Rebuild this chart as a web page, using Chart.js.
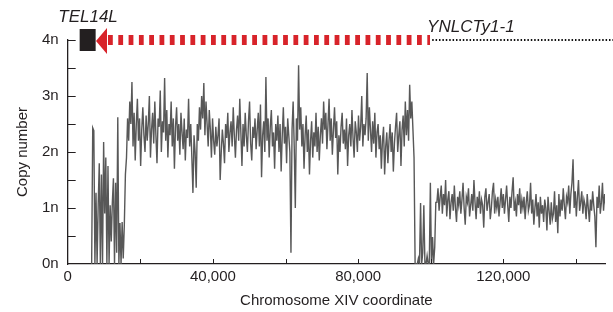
<!DOCTYPE html>
<html>
<head>
<meta charset="utf-8">
<script src="https://cdn.jsdelivr.net/npm/chart.js@4.4.1/dist/chart.umd.min.js"></script>
<style>
  html, body { margin: 0; padding: 0; background: #fff; }
</style>
</head>
<body>
<canvas id="canvas" width="613" height="312"></canvas>
<script>
// read-depth bins, 300 bp apart, first bin at 6,600
var binStart = 6600
var binSize = 300

// left of the break: patchy coverage
var leftDrop = [0, 2.43, 2.38, 0, 1.27, 0, 1.05, 1.8, 0, 1.6, 0, 2.18, 0.9, 1.9, 0, 1.75,
  0, 1.05, 0.4, 1.1, 1.53, 0, 1.45, 0.2, 2.62, 0, 0.73, 0, 0.75, 0.1, 0.7, 1.6]

// amplified stretch, about 2n
var amplified = [
  1.9, 2.6, 2.2, 2.9, 2.5, 3.25, 2.1, 2.7, 1.85, 2.5, 2.95, 2.2, 2.6, 1.75, 2.4, 2.8, 2.3, 2.0, 2.65, 2.2,
  2.5, 3.0, 1.9, 2.4, 2.7, 2.15, 2.9, 2.3, 1.8, 2.6, 2.45, 3.1, 2.0, 2.55, 2.35, 3.32, 2.2, 2.75, 1.9, 2.5,
  2.3, 2.9, 2.1, 2.6, 1.7, 2.45, 2.8, 2.2, 2.5, 1.95, 2.7, 2.35, 2.05, 2.6, 1.85, 2.4, 2.25, 2.95, 2.1, 2.5,
  1.9, 1.27, 2.3, 2.0, 1.36, 2.5, 2.2, 2.8, 2.4, 3.0, 2.6, 3.23, 2.3, 2.9, 2.5, 2.1, 2.75, 2.4, 1.9, 2.6,
  2.2, 1.95, 2.45, 2.1, 2.3, 2.6, 1.5, 2.0, 2.4, 2.15, 1.8, 2.5, 2.25, 2.7, 2.0, 2.35, 2.55, 2.1, 2.8, 2.3,
  1.9, 2.4, 2.65, 2.2, 2.95, 2.35, 1.75, 2.5, 2.1, 2.7, 2.3, 2.0, 2.55, 2.9, 2.15, 1.85, 2.45, 2.25, 2.6, 2.05,
  2.4, 2.7, 2.1, 2.85, 1.55, 2.3, 2.55, 2.0, 3.34, 2.2, 2.6, 1.9, 2.45, 2.75, 2.1, 2.35, 1.7, 2.5, 2.2, 2.65,
  2.0, 2.5, 1.65, 2.3, 2.8, 2.15, 2.45, 1.8, 2.6, 2.3, 2.0, 0.2, 2.4, 2.9, 2.1, 1.0, 2.6, 2.2, 3.55, 2.4,
  2.8, 2.1, 2.5, 1.7, 2.3, 2.65, 2.0, 2.4, 1.6, 2.2, 2.55, 1.9, 2.35, 2.1, 2.7, 2.0, 2.45, 1.85, 2.3, 2.6,
  2.15, 2.9, 2.4, 2.7, 2.05, 2.5, 2.95, 2.2, 2.6, 1.95, 2.4, 2.8, 2.25, 2.55, 1.6, 2.3, 2.0, 2.45, 2.7, 2.15,
  2.4, 2.05, 2.6, 1.75, 2.3, 2.5, 2.1, 2.75, 2.25, 1.9, 2.55, 2.35, 2.0, 2.65, 2.2, 2.45, 3.0, 2.1, 2.5, 2.3,
  2.6, 3.41, 2.2, 2.8, 2.4, 2.0, 2.55, 2.15, 2.7, 1.9, 2.35, 2.5, 2.05, 2.3, 1.7, 2.2, 2.45, 1.6, 2.1, 2.35,
  1.8, 2.2, 2.5, 2.0, 2.35, 1.65, 2.15, 2.45, 2.7, 2.0, 2.3, 2.55, 1.75, 2.4, 2.65, 2.1, 2.9, 2.3, 2.75, 2.2,
  3.2, 2.6, 2.9, 2.4, 1.9]

// second gap near YNLCTy1-1
var rightDrop = [0, 0, 0, 0.1, 0, 1.09, 0, 0.2, 1.05, 0, 0, 0.15, 0, 0, 1.45, 0, 0.48, 0, 0.3, 1.1]

// rest of the arm, about 1n
var singleCopy = [
  1.1, 1.35, 0.95, 1.2, 1.4, 0.9, 1.25, 1.05, 1.5, 0.85, 1.15, 1.3, 0.8, 1.1, 1.25, 0.95, 1.4, 1.0, 0.75, 1.2,
  1.05, 1.3, 0.9, 1.15, 1.45, 1.0, 0.7, 1.2, 1.1, 1.35, 0.85, 1.05, 1.25, 0.95, 1.5, 1.1, 0.8, 1.2, 1.0, 1.3,
  0.9, 1.15, 1.05, 0.65, 1.2, 1.35, 0.95, 1.1, 1.25, 0.8, 1.0, 1.3, 1.45, 0.9, 1.15, 1.0, 1.2, 0.85, 1.1, 1.35,
  1.0, 1.25, 0.9, 1.15, 1.4, 1.05, 0.75, 1.2, 1.0, 1.3, 1.55, 0.95, 1.1, 0.85, 1.25, 1.05, 1.35, 0.9, 1.15, 1.0,
  1.2, 0.8, 1.1, 1.3, 0.95, 1.05, 1.45, 0.9, 1.15, 0.7, 1.0, 1.25, 0.85, 1.1, 0.65, 1.2, 0.9, 1.05, 0.75, 1.15,
  1.0, 0.6, 1.2, 0.95, 0.7, 1.1, 0.8, 0.9, 1.3, 0.75, 1.05, 0.55, 1.25, 0.85, 1.15, 0.95, 1.35, 1.05, 0.8, 1.2,
  1.1, 1.4, 0.9, 1.25, 1.45, 1.87, 1.0, 1.3, 0.85, 1.2, 1.5, 0.95, 1.1, 1.3, 0.9, 1.15, 1.05, 0.8, 1.25, 1.0,
  0.75, 1.15, 0.95, 1.3, 1.05, 0.85, 0.3, 1.2, 1.0, 1.4, 0.9, 1.1, 1.45, 0.95, 1.25, 1.05]

var xTickMarks = [0, 20000, 40000, 60000, 80000, 100000, 120000, 140000]
var xLabelTicks = [0, 40000, 80000, 120000]
var yLabelTicks = [0, 1, 2, 3, 4]

// features drawn along the 4n line (bp)
var telomereBox = [3300, 7700]
var arrowSpan = [7800, 99800]
var dottedSpan = [100400, 150500]
var telLabel = { text: 'TEL14L', at: 5600 }
var tyLabel = { text: 'YNLCTy1-1', at: 99000 }

var copyNumber = leftDrop.concat(amplified, rightDrop, singleCopy)
var points = copyNumber.map(function (v, i) { return { x: binStart + i * binSize, y: v } })

var ink = '#231f20'
Chart.defaults.font.family = "'Liberation Sans', Arial, sans-serif"
Chart.defaults.font.size = 15
Chart.defaults.color = ink

const decorations = {
  id: 'decorations',
  afterDraw(chart) {
    var ctx = chart.ctx
    var xs = chart.scales.x, ys = chart.scales.y
    var area = chart.chartArea
    ctx.save()
    // inward tick marks
    ctx.strokeStyle = ink
    ctx.lineWidth = 1
    xs.ticks.forEach(function (t) {
      if (t.value === 0) return
      var px = Math.round(xs.getPixelForValue(t.value)) + 0.5
      ctx.beginPath(); ctx.moveTo(px, area.bottom); ctx.lineTo(px, area.bottom - 5); ctx.stroke()
    })
    ys.ticks.forEach(function (t) {
      if (t.value === 0) return
      var py = Math.round(ys.getPixelForValue(t.value)) + 0.5
      ctx.beginPath(); ctx.moveTo(area.left, py); ctx.lineTo(area.left + 8, py); ctx.stroke()
    })

    var yTop = ys.getPixelForValue(4)
    // dotted line to the right of the Ty element
    ctx.strokeStyle = '#111'
    ctx.lineWidth = 2
    ctx.setLineDash([1.5, 1.9])
    ctx.beginPath()
    ctx.moveTo(xs.getPixelForValue(dottedSpan[0]), yTop)
    ctx.lineTo(xs.getPixelForValue(dottedSpan[1]), yTop)
    ctx.stroke()

    // red dashed arrow pointing at the telomere
    var tip = xs.getPixelForValue(arrowSpan[0])
    ctx.strokeStyle = '#d8232a'
    ctx.lineWidth = 10
    ctx.setLineDash([4.8, 5.5])
    ctx.beginPath()
    ctx.moveTo(tip + 12, yTop)
    ctx.lineTo(xs.getPixelForValue(arrowSpan[1]), yTop)
    ctx.stroke()
    ctx.setLineDash([])
    ctx.fillStyle = '#d8232a'
    ctx.beginPath()
    ctx.moveTo(tip, yTop + 1)
    ctx.lineTo(tip + 11, yTop - 12)
    ctx.lineTo(tip + 11, yTop + 14)
    ctx.closePath()
    ctx.fill()

    // telomere box
    var b0 = xs.getPixelForValue(telomereBox[0]), b1 = xs.getPixelForValue(telomereBox[1])
    ctx.fillStyle = ink
    ctx.fillRect(b0, yTop - 11, b1 - b0, 22)

    // labels
    ctx.font = "italic 17px 'Liberation Sans', Arial, sans-serif"
    ctx.textBaseline = 'alphabetic'
    ctx.textAlign = 'center'
    ctx.fillText(telLabel.text, xs.getPixelForValue(telLabel.at), yTop - 18)
    ctx.textAlign = 'left'
    ctx.fillText(tyLabel.text, xs.getPixelForValue(tyLabel.at), yTop - 8)
    ctx.restore()
  }
}

const config = {
  type: 'line',
  data: {
    datasets: [{
      data: points,
      borderColor: '#585858',
      borderWidth: 1.4,
      pointRadius: 0,
      tension: 0,
      fill: false
    }]
  },
  options: {
    responsive: false,
    animation: false,
    devicePixelRatio: 1,
    layout: { padding: { top: 40, right: 8, left: 14, bottom: 2 } },
    plugins: { legend: { display: false }, tooltip: { enabled: false } },
    scales: {
      x: {
        type: 'linear',
        min: 0,
        max: 148000,
        afterBuildTicks: function (s) {
          s.ticks = xTickMarks.map(function (v) { return { value: v } })
        },
        ticks: {
          maxRotation: 0,
          autoSkip: false,
          padding: 4,
          callback: function (v) { return xLabelTicks.indexOf(v) >= 0 ? v.toLocaleString('en-US') : '' }
        },
        grid: { display: false, drawTicks: false },
        border: { display: true, color: ink, width: 1.3 },
        title: { display: true, text: 'Chromosome XIV coordinate', padding: { top: 2, bottom: 0 } }
      },
      y: {
        min: 0,
        max: 4,
        ticks: {
          stepSize: 0.5,
          autoSkip: false,
          padding: 9,
          callback: function (v) { return yLabelTicks.indexOf(v) >= 0 ? v + 'n' : '' }
        },
        grid: { display: false, drawTicks: false },
        border: { display: true, color: ink, width: 1.3 },
        title: { display: true, text: 'Copy number', padding: { top: 0, bottom: 1 } }
      }
    }
  },
  plugins: [decorations]
}

const canvas = document.getElementById('canvas')
const chart = new Chart(canvas, config)
</script>
</body>
</html>
